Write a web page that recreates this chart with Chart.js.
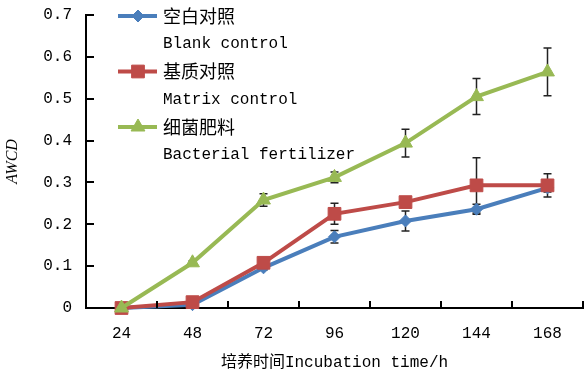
<!DOCTYPE html>
<html>
<head>
<meta charset="utf-8">
<script src="https://cdn.jsdelivr.net/npm/chart.js"></script>
<style>
html, body { margin: 0; padding: 0; background: #fff; }
</style>
</head>
<body>
<canvas id="myChart" width="584" height="376"></canvas>
<script>
// datos
const horas = ['24', '48', '72', '96', '120', '144', '168'];
const nombresZh = ['空白对照', '基质对照', '细菌肥料'];
const nombresEn = ['Blank control', 'Matrix control', 'Bacterial fertilizer'];

const blanco     = [0, 0.008, 0.096, 0.170, 0.208, 0.236, 0.287];
const blancoErr  = [0, 0.003, 0.005, 0.015, 0.024, 0.012, 0.010];
const matriz     = [0, 0.014, 0.108, 0.225, 0.253, 0.293, 0.293];
const matrizErr  = [0, 0.004, 0.006, 0.025, 0.008, 0.066, 0.028];
const bacteria   = [0, 0.108, 0.258, 0.312, 0.394, 0.505, 0.564];
const bacteriaErr = [0, 0.004, 0.015, 0.013, 0.033, 0.043, 0.057];

const yValores = [0, 0.1, 0.2, 0.3, 0.4, 0.5, 0.6, 0.7];
const yEtiquetas = ['0', '0.1', '0.2', '0.3', '0.4', '0.5', '0.6', '0.7'];

const errores = [blancoErr, matrizErr, bacteriaErr];
const monoFont = '"Liberation Mono", "Noto Sans CJK SC", monospace';

function punto(ctx, estilo, r, x, y, color) {
    ctx.save();
    ctx.fillStyle = color;
    ctx.strokeStyle = color;
    ctx.lineWidth = 1;
    ctx.beginPath();
    if (estilo === 'rectRot') {
        ctx.moveTo(x, y - r); ctx.lineTo(x + r, y); ctx.lineTo(x, y + r); ctx.lineTo(x - r, y);
    } else if (estilo === 'rect') {
        const s = r * Math.SQRT1_2;
        ctx.rect(x - s, y - s, 2 * s, 2 * s);
    } else {
        ctx.moveTo(x, y - r); ctx.lineTo(x + r * 0.866, y + r / 2); ctx.lineTo(x - r * 0.866, y + r / 2);
    }
    ctx.closePath();
    ctx.fill();
    ctx.stroke();
    ctx.restore();
}

const extras = {
    id: 'extras',
    beforeDatasetsDraw(chart) {
        const ctx = chart.ctx, x = chart.scales.x, y = chart.scales.y;
        ctx.save();
        ctx.strokeStyle = '#222';
        ctx.lineWidth = 1.5;
        errores.forEach((err, d) => {
            const vals = chart.data.datasets[d].data;
            err.forEach((e, i) => {
                if (!e) return;
                const px = x.getPixelForValue(i);
                const top = y.getPixelForValue(vals[i] + e);
                const bot = y.getPixelForValue(vals[i] - e);
                ctx.beginPath();
                ctx.moveTo(px, top); ctx.lineTo(px, bot);
                ctx.moveTo(px - 4, top); ctx.lineTo(px + 4, top);
                ctx.moveTo(px - 4, bot); ctx.lineTo(px + 4, bot);
                ctx.stroke();
            });
        });
        ctx.restore();
    },
    afterDraw(chart) {
        const ctx = chart.ctx, x = chart.scales.x, y = chart.scales.y;
        const area = chart.chartArea;
        ctx.save();
        // marcas hacia adentro
        ctx.strokeStyle = '#000';
        ctx.lineWidth = 2;
        ctx.beginPath();
        yValores.forEach(v => {
            const py = Math.round(y.getPixelForValue(v));
            ctx.moveTo(area.left, py); ctx.lineTo(area.left + 8, py);
        });
        horas.forEach((h, i) => {
            const px = Math.round(x.getPixelForValue(i + 0.5));
            ctx.moveTo(px, area.bottom); ctx.lineTo(px, area.bottom - 7);
        });
        ctx.stroke();

        // leyenda
        chart.data.datasets.forEach((ds, d) => {
            const ly = 16 + d * 55.5;
            ctx.strokeStyle = ds.borderColor;
            ctx.lineWidth = 4;
            ctx.beginPath();
            ctx.moveTo(118, ly); ctx.lineTo(157, ly);
            ctx.stroke();
            punto(ctx, ds.pointStyle, ds.pointRadius, 138, ly, ds.borderColor);
            ctx.fillStyle = '#000';
            ctx.textBaseline = 'middle';
            ctx.textAlign = 'left';
            ctx.font = '18px "Noto Sans CJK SC"';
            ctx.fillText(nombresZh[d], 163, ly);
            ctx.font = '16px ' + monoFont;
            ctx.fillText(nombresEn[d], 163, ly + 28);
        });
        ctx.restore();
    }
};

const ctx = document.getElementById('myChart').getContext('2d');
const myChart = new Chart(ctx, {
    type: 'line',
    data: {
        labels: horas,
        datasets: [{
            label: nombresZh[0],
            data: blanco,
            borderColor: '#4A7EBB',
            backgroundColor: '#4A7EBB',
            pointStyle: 'rectRot',
            pointRadius: 6,
            order: 2
        }, {
            label: nombresZh[1],
            data: matriz,
            borderColor: '#BE4B48',
            backgroundColor: '#BE4B48',
            pointStyle: 'rect',
            pointRadius: 9,
            order: 1
        }, {
            label: nombresZh[2],
            data: bacteria,
            borderColor: '#98B954',
            backgroundColor: '#98B954',
            pointStyle: 'triangle',
            pointRadius: 8,
            order: 0
        }]
    },
    options: {
        responsive: false,
        animation: false,
        devicePixelRatio: 1,
        clip: false,
        layout: { autoPadding: false, padding: { top: 15, right: 1, left: 0, bottom: 0 } },
        elements: {
            line: { borderWidth: 4, tension: 0 },
            point: { borderWidth: 1 }
        },
        plugins: {
            legend: { display: false },
            tooltip: { enabled: false }
        },
        scales: {
            x: {
                offset: true,
                grid: { display: false },
                border: { display: true, color: '#000', width: 2 },
                ticks: { color: '#000', font: { family: monoFont, size: 16 }, padding: 8 },
                title: {
                    display: true,
                    text: '培养时间Incubation time/h',
                    color: '#000',
                    font: { family: monoFont, size: 16 },
                    padding: { top: 0, bottom: 4 }
                },
                afterFit(scale) {
                    scale.height = 68;
                    scale.paddingLeft = 0;
                    scale.paddingRight = 0;
                }
            },
            y: {
                min: 0,
                max: 0.7,
                grid: { display: false },
                border: { display: true, color: '#000', width: 2 },
                afterBuildTicks(scale) { scale.ticks = yValores.map(v => ({ value: v })); },
                ticks: {
                    color: '#000',
                    font: { family: monoFont, size: 16 },
                    padding: 6,
                    callback: (v, i) => yEtiquetas[i]
                },
                title: {
                    display: true,
                    text: 'AWCD',
                    color: '#000',
                    font: { family: '"Liberation Serif"', size: 16, style: 'italic' },
                    padding: { top: 3, bottom: 0 }
                },
                afterFit(scale) {
                    scale.width = 86;
                    scale.paddingTop = 0;
                    scale.paddingBottom = 0;
                }
            }
        }
    },
    plugins: [extras]
});
</script>
</body>
</html>
